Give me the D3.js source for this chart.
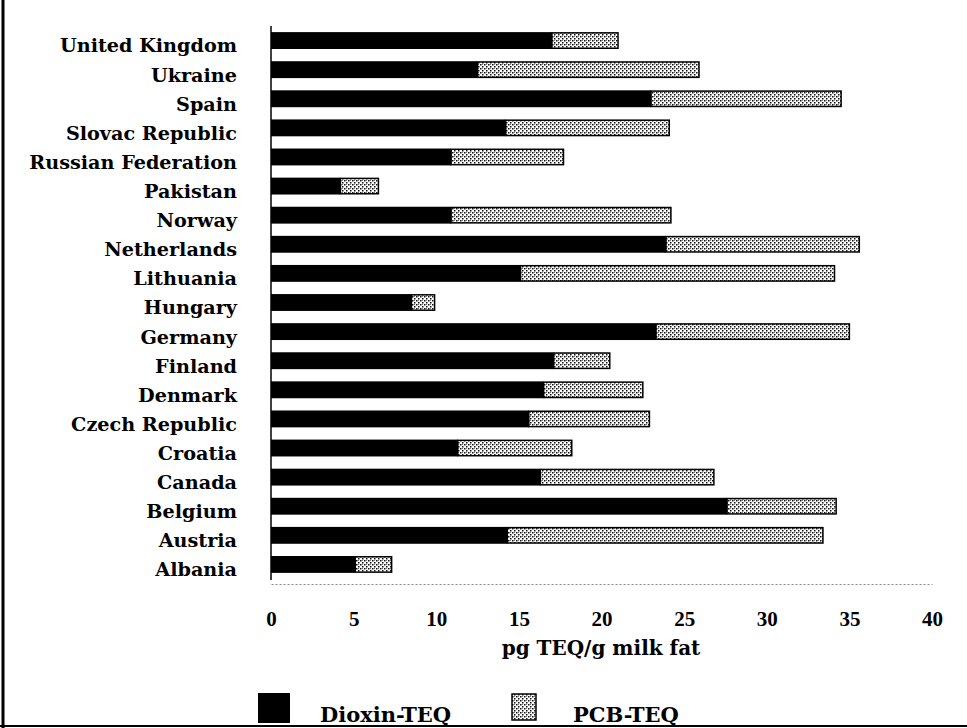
<!DOCTYPE html>
<html>
<head>
<meta charset="utf-8">
<script src="https://cdn.jsdelivr.net/npm/d3@7"></script>
<style>
  body { margin: 0; background: #fff; }
  svg { display: block; }
</style>
</head>
<body>
<svg width="967" height="728"></svg>
<script>
const countries = ['United Kingdom', 'Ukraine', 'Spain', 'Slovac Republic', 'Russian Federation',
  'Pakistan', 'Norway', 'Netherlands', 'Lithuania', 'Hungary', 'Germany', 'Finland',
  'Denmark', 'Czech Republic', 'Croatia', 'Canada', 'Belgium', 'Austria', 'Albania'];
const dioxin = [17, 12.5, 23, 14.2, 10.9, 4.2, 10.9, 23.9, 15.1, 8.5, 23.3, 17.1, 16.5, 15.6, 11.3, 16.3, 27.6, 14.3, 5.1];
const pcb = [4, 13.4, 11.5, 9.9, 6.8, 2.3, 13.3, 11.7, 19, 1.4, 11.7, 3.4, 6, 7.3, 6.9, 10.5, 6.6, 19.1, 2.2];
const xTicks = [0, 5, 10, 15, 20, 25, 30, 35, 40];

const svg = d3.select('svg');
const labelFont = '"DejaVu Serif", serif';
const numFont = '"Liberation Serif", "Times New Roman", serif';

const rows = countries.map((c, i) => ({ country: c, dioxin: dioxin[i], pcb: pcb[i] }));

const x = d3.scaleLinear().domain([0, 40]).range([271, 932]);
const y = d3.scaleBand().domain(countries).range([26, 579])
  .paddingInner(0.42).paddingOuter(0.21);

// pattern for PCB
const defs = svg.append('defs');
const pat = defs.append('pattern')
  .attr('id', 'pcb')
  .attr('width', 4).attr('height', 4)
  .attr('patternUnits', 'userSpaceOnUse');
pat.append('rect').attr('width', 4).attr('height', 4).attr('fill', '#fff');
pat.append('rect').attr('x', 0).attr('y', 0).attr('width', 1.5).attr('height', 1.5).attr('fill', '#111');
pat.append('rect').attr('x', 2).attr('y', 2).attr('width', 1.5).attr('height', 1.5).attr('fill', '#111');
pat.append('rect').attr('x', 2).attr('y', 0).attr('width', 1).attr('height', 1).attr('fill', '#777');

// frame lines from the scan
svg.append('line').attr('x1', 3).attr('x2', 3).attr('y1', 0).attr('y2', 728)
  .attr('stroke', '#000').attr('stroke-width', 3);
svg.append('line').attr('x1', 0).attr('x2', 967).attr('y1', 726).attr('y2', 726)
  .attr('stroke', '#000').attr('stroke-width', 2);

// bars
const g = svg.append('g');
g.selectAll('rect.dioxin').data(rows).enter().append('rect')
  .attr('class', 'dioxin')
  .attr('x', x(0))
  .attr('y', d => y(d.country))
  .attr('width', d => x(d.dioxin) - x(0))
  .attr('height', y.bandwidth())
  .attr('fill', '#000');

g.selectAll('rect.pcb').data(rows).enter().append('rect')
  .attr('class', 'pcb')
  .attr('x', d => x(d.dioxin))
  .attr('y', d => y(d.country) + 0.75)
  .attr('width', d => x(d.dioxin + d.pcb) - x(d.dioxin))
  .attr('height', y.bandwidth() - 1.5)
  .attr('fill', 'url(#pcb)')
  .attr('stroke', '#000')
  .attr('stroke-width', 1.5);

// y axis
const yAxisG = svg.append('g')
  .attr('transform', `translate(${x(0)},0)`)
  .call(d3.axisLeft(y).tickSize(0).tickPadding(34));
yAxisG.select('.domain').attr('stroke', '#000').attr('stroke-width', 1.5)
  .attr('d', `M0,26V580`);
yAxisG.selectAll('text')
  .attr('font-family', labelFont)
  .attr('font-weight', 'bold')
  .attr('font-size', 19.2)
  .attr('fill', '#000')
  .attr('dy', '0.62em');

// x axis
const xAxisG = svg.append('g')
  .attr('transform', 'translate(0,584)')
  .call(d3.axisBottom(x).tickValues(xTicks).tickSize(0).tickPadding(27));
xAxisG.select('.domain').attr('stroke', '#888').attr('stroke-dasharray', '2,2');
xAxisG.selectAll('text')
  .attr('font-family', numFont)
  .attr('font-weight', 'bold')
  .attr('font-size', 21)
  .attr('fill', '#000');

svg.append('text')
  .attr('x', 601).attr('y', 655)
  .attr('text-anchor', 'middle')
  .attr('font-family', labelFont)
  .attr('font-weight', 'bold')
  .attr('font-size', 20)
  .text('pg TEQ/g milk fat');

// legend
const legend = svg.append('g');
legend.append('rect').attr('x', 258).attr('y', 693).attr('width', 32).attr('height', 30).attr('fill', '#000');
legend.append('text').attr('x', 320).attr('y', 722)
  .attr('font-family', labelFont).attr('font-weight', 'bold').attr('font-size', 21)
  .text('Dioxin-TEQ');
legend.append('rect').attr('x', 512).attr('y', 694).attr('width', 24).attr('height', 26)
  .attr('fill', 'url(#pcb)').attr('stroke', '#000').attr('stroke-width', 1.5);
legend.append('text').attr('x', 573).attr('y', 722)
  .attr('font-family', labelFont).attr('font-weight', 'bold').attr('font-size', 21)
  .text('PCB-TEQ');
</script>
</body>
</html>
